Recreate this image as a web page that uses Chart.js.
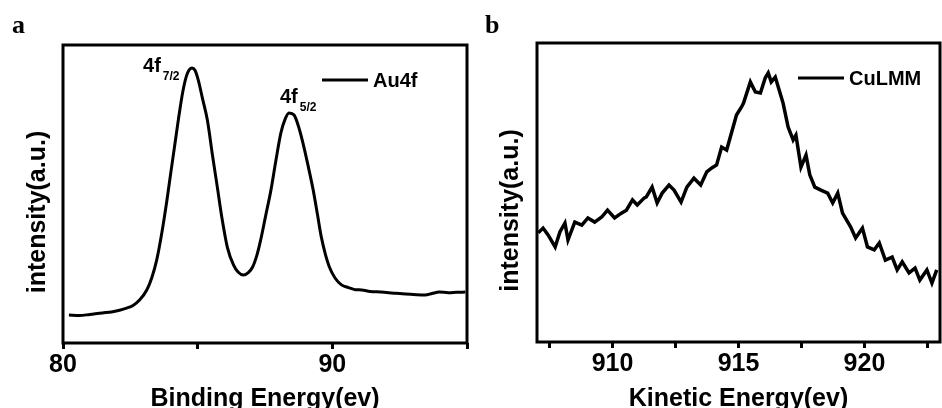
<!DOCTYPE html>
<html>
<head>
<meta charset="utf-8">
<script src="https://cdn.jsdelivr.net/npm/chart.js@4.4.1/dist/chart.umd.min.js"></script>
<style>
    html, body { margin: 0; padding: 0; background: #fff; }
    #wrap { position: relative; width: 942px; height: 408px; overflow: hidden; }
    .panel { position: absolute; top: 0; width: 471px; height: 408px; }
</style>
</head>
<body>
<div id="wrap">
    <div class="panel" style="left:0"><canvas id="chart-a" width="471" height="408"></canvas></div>
    <div class="panel" style="left:471px"><canvas id="chart-b" width="471" height="408"></canvas></div>
</div>
<script>
// Panel a: Au 4f spectrum
const auEnergy = [80.22, 80.6, 81.0, 81.46, 81.8, 82.1, 82.36, 82.6, 82.85, 83.11, 83.3, 83.48, 83.67, 83.86, 84.0, 84.16, 84.3, 84.46, 84.62, 84.79, 84.9, 85.02, 85.18, 85.36, 85.55, 85.73, 85.9, 86.1, 86.33, 86.5, 86.7, 86.88, 87.04, 87.2, 87.34, 87.52, 87.72, 87.9, 88.09, 88.25, 88.39, 88.58, 88.75, 88.91, 89.1, 89.29, 89.45, 89.59, 89.75, 89.89, 90.1, 90.34, 90.6, 90.85, 91.09, 91.4, 91.8, 92.21, 92.6, 93.0, 93.45, 93.7, 93.97, 94.3, 94.6, 94.94];
const auIntensity = [9.4, 9.2, 9.6, 10.1, 10.4, 11.0, 11.7, 12.6, 14.5, 17.8, 22.0, 27.9, 37.0, 48.0, 57.0, 67.1, 76.0, 84.9, 90.5, 92.3, 91.5, 88.3, 82.0, 74.8, 63.0, 52.3, 42.0, 32.2, 26.2, 23.8, 22.8, 23.6, 25.5, 29.5, 34.6, 42.5, 51.3, 61.0, 70.5, 75.2, 77.2, 76.5, 72.5, 67.1, 59.5, 51.3, 43.0, 35.6, 29.5, 25.5, 21.8, 19.5, 18.6, 17.9, 17.8, 17.3, 17.1, 16.8, 16.5, 16.3, 16.1, 16.6, 17.1, 16.9, 17.0, 17.1];
const auTicks = [80, 85, 90, 95];
const auTickLabels = ['80', '', '90', ''];
const auPeakEnergy = [84.79, 88.39];
const auPeakIntensity = [92.3, 77.2];
const auPeakMain = ['4f', '4f'];
const auPeakSub = ['7/2', '5/2'];

// Panel b: Cu LMM Auger spectrum
const cuEnergy = [907.05, 907.24, 907.44, 907.72, 907.91, 908.11, 908.23, 908.5, 908.78, 909.02, 909.29, 909.57, 909.8, 910.08, 910.35, 910.55, 910.79, 910.98, 911.26, 911.34, 911.57, 911.77, 911.97, 912.24, 912.44, 912.72, 912.95, 913.23, 913.5, 913.74, 913.94, 914.13, 914.33, 914.53, 914.72, 914.92, 915.12, 915.2, 915.47, 915.67, 915.87, 916.06, 916.18, 916.3, 916.46, 916.65, 916.77, 916.97, 917.17, 917.28, 917.48, 917.68, 917.83, 918.03, 918.27, 918.54, 918.74, 918.94, 919.13, 919.45, 919.65, 919.92, 920.12, 920.39, 920.59, 920.83, 921.1, 921.3, 921.5, 921.77, 922.01, 922.2, 922.48, 922.68, 922.87];
const cuIntensity = [36.5, 38.1, 35.8, 31.8, 36.8, 39.8, 34.1, 40.1, 39.1, 41.5, 40.1, 41.8, 44.1, 41.5, 43.1, 44.1, 47.5, 45.8, 48.2, 48.5, 51.8, 46.5, 49.8, 52.5, 50.8, 46.8, 51.8, 54.8, 52.5, 56.9, 58.2, 59.2, 65.2, 64.2, 69.9, 75.9, 78.6, 79.9, 87.0, 83.6, 83.3, 88.3, 90.0, 87.0, 88.6, 83.3, 79.9, 71.9, 67.6, 69.2, 58.5, 62.5, 55.9, 51.8, 50.8, 49.8, 46.5, 49.8, 43.1, 38.5, 34.8, 38.1, 31.8, 30.8, 33.1, 27.4, 28.4, 24.1, 26.8, 23.1, 24.7, 20.7, 24.1, 19.7, 24.1];
const cuTicks = [907.5, 910, 912.5, 915, 917.5, 920, 922.5];
const cuTickLabels = ['', '910', '', '915', '', '920', ''];

const FONT = '"Liberation Sans", Arial, sans-serif';
const SERIF = '"Liberation Serif", "Times New Roman", serif';

const toPoints = (xs, ys) => xs.map((x, i) => ({ x, y: ys[i] }));

// frame, panel letter, rotated y title, legend and peak labels
const decor = {
    id: 'decor',
    afterDraw(chart, args, o) {
        const { ctx, chartArea: a } = chart;
        ctx.save();
        ctx.strokeStyle = '#000';
        ctx.fillStyle = '#000';
        ctx.lineWidth = 3;
        ctx.strokeRect(a.left, a.top, a.right - a.left, a.bottom - a.top);

        ctx.font = 'bold 26px ' + SERIF;
        ctx.textAlign = 'left';
        ctx.textBaseline = 'alphabetic';
        ctx.fillText(o.letter, o.letterX, 33);

        ctx.save();
        ctx.translate(a.left - o.yTitleDx, (a.top + a.bottom) / 2 + 18);
        ctx.rotate(-Math.PI / 2);
        ctx.font = 'bold 25px ' + FONT;
        ctx.textAlign = 'center';
        ctx.textBaseline = 'middle';
        ctx.fillText(o.yTitle, 0, 0);
        ctx.restore();

        const ly = a.top + 35;
        const lx = a.right - o.legendDx;
        ctx.beginPath();
        ctx.moveTo(lx, ly);
        ctx.lineTo(lx + 46, ly);
        ctx.stroke();
        ctx.font = 'bold 20px ' + FONT;
        ctx.textBaseline = 'middle';
        ctx.fillText(chart.data.datasets[0].label, lx + 51, ly + 1);

        (o.peaks || []).forEach(p => {
            const px = chart.scales.x.getPixelForValue(p.x);
            const py = chart.scales.y.getPixelForValue(p.y);
            ctx.textBaseline = 'alphabetic';
            ctx.font = 'bold 20px ' + FONT;
            const tx = px + p.dx, ty = py + p.dy;
            ctx.fillText(p.main, tx, ty);
            const w = ctx.measureText(p.main).width;
            ctx.font = 'bold 12px ' + FONT;
            ctx.fillText(p.sub, tx + w + 2, ty + 8);
        });
        ctx.restore();
    }
};

function xAxis(min, max, ticks, labels, title, height) {
    return {
        type: 'linear',
        min, max,
        afterBuildTicks: s => { s.ticks = ticks.map(v => ({ value: v })); },
        afterFit: s => { s.height = height; },
        border: { display: false },
        grid: { drawOnChartArea: false, drawTicks: true, tickLength: 6, color: '#000', lineWidth: 3 },
        ticks: {
            color: '#000',
            font: { family: FONT, size: 25, weight: 'bold' },
            padding: 1,
            maxRotation: 0,
            autoSkip: false,
            callback: (v, i) => labels[i]
        },
        title: {
            display: true,
            text: title,
            color: '#000',
            font: { family: FONT, size: 25, weight: 'bold', lineHeight: 1 },
            padding: { top: 0, bottom: -4 }
        }
    };
}

function makeChart(id, cfg) {
    return new Chart(document.getElementById(id), {
        type: 'line',
        data: {
            datasets: [{
                label: cfg.label,
                data: cfg.points,
                borderColor: '#000',
                borderWidth: cfg.lineWidth,
                pointRadius: 0,
                fill: false,
                tension: 0,
                cubicInterpolationMode: cfg.smooth ? 'monotone' : 'default'
            }]
        },
        options: {
            responsive: false,
            animation: false,
            layout: { padding: cfg.padding },
            plugins: {
                legend: { display: false },
                tooltip: { enabled: false },
                decor: cfg.decor
            },
            scales: {
                x: cfg.x,
                y: { display: false, min: 0, max: 100 }
            }
        },
        plugins: [decor]
    });
}

makeChart('chart-a', {
    label: 'Au4f',
    points: toPoints(auEnergy, auIntensity),
    smooth: true,
    lineWidth: 3,
    padding: { left: 63, top: 45, right: 4, bottom: 0 },
    x: xAxis(80, 95, auTicks, auTickLabels, 'Binding Energy(ev)', 65),
    decor: {
        letter: 'a', letterX: 12, yTitle: 'intensity(a.u.)', yTitleDx: 25, legendDx: 145,
        peaks: [
            { x: auPeakEnergy[0], y: auPeakIntensity[0], main: auPeakMain[0], sub: auPeakSub[0], dx: -49, dy: 4 },
            { x: auPeakEnergy[1], y: auPeakIntensity[1], main: auPeakMain[1], sub: auPeakSub[1], dx: -9, dy: -10 }
        ]
    }
});

makeChart('chart-b', {
    label: 'CuLMM',
    points: toPoints(cuEnergy, cuIntensity),
    smooth: false,
    lineWidth: 3.5,
    padding: { left: 66, top: 43, right: 2, bottom: 0 },
    x: xAxis(907, 923, cuTicks, cuTickLabels, 'Kinetic Energy(ev)', 66),
    decor: { letter: 'b', letterX: 14, yTitle: 'intensity(a.u.)', yTitleDx: 26, legendDx: 142 }
});
</script>
</body>
</html>
